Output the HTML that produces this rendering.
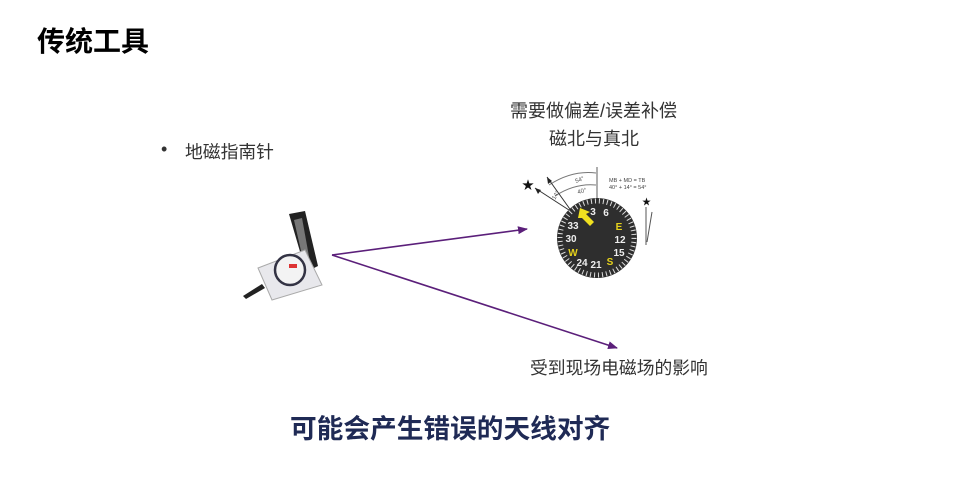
<!DOCTYPE html>
<html><head><meta charset="utf-8"><style>
body{margin:0;width:959px;height:499px;background:#fff;position:relative;overflow:hidden;font-family:"Liberation Sans","Noto Sans CJK SC",sans-serif;}
.t{position:absolute;white-space:nowrap;}
</style></head><body>
<div class="t" style="left:37px;top:20px;font-size:28px;font-weight:bold;color:#000;">传统工具</div>
<div class="t" style="left:161px;top:139px;font-size:18px;color:#333;">•</div>
<div class="t" style="left:185px;top:138px;font-size:17.8px;color:#333;">地磁指南针</div>
<div class="t" style="left:510px;top:97px;font-size:18px;color:#333;">需要做偏差/误差补偿</div>
<div class="t" style="left:549px;top:125px;font-size:18px;color:#333;">磁北与真北</div>
<div class="t" style="left:530px;top:354px;font-size:17.8px;color:#333;">受到现场电磁场的影响</div>
<div class="t" style="left:290px;top:407px;font-size:26.7px;font-weight:bold;color:#1f2a55;">可能会产生错误的天线对齐</div>
<svg width="959" height="499" style="position:absolute;left:0;top:0">
<defs><marker id="a" markerWidth="10" markerHeight="8" refX="9" refY="4" orient="auto" markerUnits="userSpaceOnUse"><path d="M0,0 L10,4 L0,8 z" fill="#5b1f7a"/></marker></defs>
<line x1="332" y1="255" x2="527" y2="229" stroke="#5b1f7a" stroke-width="1.6" marker-end="url(#a)"/>
<line x1="332" y1="255" x2="617" y2="348" stroke="#5b1f7a" stroke-width="1.6" marker-end="url(#a)"/>
<g>
<path d="M289,214 L305,211 L318,266 L306,272 Z" fill="#222"/>
<path d="M294,220 L302,218 L310,262 L304,264 Z" fill="#777"/>
<path d="M258,268 L305,250 L322,285 L272,300 Z" fill="#e8e8ec" stroke="#aaa" stroke-width="1"/>
<circle cx="290" cy="270" r="15" fill="#f3f3f3" stroke="#334" stroke-width="2.5"/>
<rect x="289" y="264" width="8" height="4" fill="#d33"/>
<path d="M243,296 L262,284 L265,288 L246,299 Z" fill="#222"/>
</g>
<g>
<line x1="597" y1="167" x2="597" y2="200" stroke="#777" stroke-width="1.2"/>
<path d="M549,185 Q572,170 596,173" fill="none" stroke="#777"/>
<path d="M555,196 Q575,183 596,185" fill="none" stroke="#777"/>
<line x1="572" y1="212" x2="547" y2="177" stroke="#333" stroke-width="1"/>
<path d="M547,177 l1,7 l4,-3z" fill="#222"/>
<line x1="572" y1="212" x2="535" y2="188" stroke="#333" stroke-width="1"/>
<path d="M535,188 l3,6 l3,-4z" fill="#222"/>
<text x="522" y="189" font-size="12" fill="#111">★</text>
<text x="576" y="183" font-size="6" fill="#555" transform="rotate(-20 576 183)">54°</text>
<text x="578" y="194" font-size="6" fill="#555" transform="rotate(-15 578 194)">40°</text>
<text x="555" y="200" font-size="6" fill="#555" transform="rotate(-60 555 200)">14°</text>
<text x="609" y="182" font-size="5.5" fill="#444">MB + MD = TB</text>
<text x="609" y="189" font-size="5.5" fill="#444">40° + 14° = 54°</text>
<text x="642" y="205" font-size="9" fill="#111">★</text>
<line x1="646" y1="207" x2="646" y2="245" stroke="#555"/>
<line x1="652" y1="212" x2="647" y2="242" stroke="#555"/>
<circle cx="597" cy="238" r="40" fill="#2e2e2e"/>
<circle cx="597" cy="238" r="37" fill="none" stroke="#ddd" stroke-width="5" stroke-dasharray="1 3"/>
<g font-size="10" font-weight="bold" fill="#eee" text-anchor="middle">
<text x="593" y="215">3</text><text x="606" y="216">6</text>
<text x="619" y="230" fill="#e6d21c">E</text><text x="620" y="243">12</text><text x="619" y="256">15</text>
<text x="610" y="265" fill="#e6d21c">S</text><text x="596" y="268">21</text><text x="582" y="266">24</text>
<text x="573" y="256" fill="#e6d21c">W</text><text x="571" y="242">30</text><text x="573" y="229">33</text>
</g>
<path d="M578,218 L580,208 L590,212 L586,214 L594,222 L590,226 L582,218 Z" fill="#f0e020"/>
</g>
</svg>
</body></html>
